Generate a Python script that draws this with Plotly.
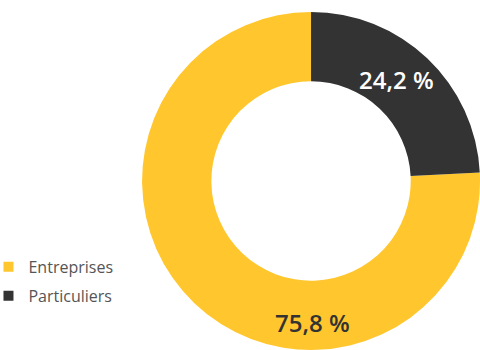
import plotly.graph_objects as go

labels = ["Entreprises", "Particuliers"]
values = [75.8, 24.2]
text_labels = ["75,8 %", "24,2 %"]
colors = ["#FFC62D", "#333333"]
label_colors = ["#333333", "#FFFFFF"]
label_pos = [(0.65, 0.080), (0.827, 0.799)]

# start the first slice where the second one ends, so "Particuliers" sits at 12-3 o'clock
start_angle = values[1] / sum(values) * 360

fig = go.Figure(go.Pie(
    labels=labels,
    values=values,
    hole=0.59,
    sort=False,
    direction="clockwise",
    rotation=start_angle,
    textinfo="none",
    marker=dict(colors=colors, line=dict(width=0)),
    domain=dict(x=[0.296, 1.0], y=[0, 1]),
    hoverinfo="label+percent",
    showlegend=False,
))

# legend entries (same labels / colours as the slices)
for lab, col in zip(labels, colors):
    fig.add_trace(go.Scatter(
        x=[None], y=[None], mode="markers", name=lab,
        legendgroup=lab,
        marker=dict(symbol="square", size=10, color=col),
        showlegend=True,
    ))

for t, c, (x, y) in zip(text_labels, label_colors, label_pos):
    fig.add_annotation(x=x, y=y, xref="paper", yref="paper", text=t, showarrow=False,
                       font=dict(family="Open Sans", size=24, color=c, weight=600),
                       xanchor="center", yanchor="middle")

fig.update_layout(
    width=480, height=350,
    margin=dict(l=0, r=0, t=12, b=0, autoexpand=False),
    paper_bgcolor="white",
    plot_bgcolor="white",
    xaxis=dict(visible=False),
    yaxis=dict(visible=False),
    legend=dict(x=-0.024, y=0.296, xanchor="left", yanchor="top",
                tracegroupgap=5, itemwidth=30,
                font=dict(family="Open Sans", size=16, color="#555555")),
    showlegend=True,
)

fig.write_html("out.html")
